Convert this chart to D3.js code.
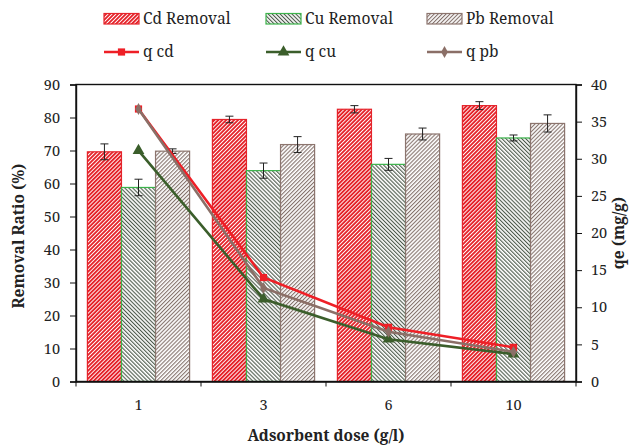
<!DOCTYPE html>
<html>
<head>
<meta charset="utf-8">
<script src="https://cdn.jsdelivr.net/npm/d3@7"></script>
<style>
  body { margin: 0; background: #fff; }
  svg text { font-family: "Noto Serif", "Liberation Serif", serif; fill: #222; }
</style>
</head>
<body>
<div id="chart-area"></div>
<script>
// values
const doses = ["1", "3", "6", "10"];
const metals = ["Cd", "Cu", "Pb"];
const cdRemoval = [69.6, 79.4, 82.5, 83.6];
const cuRemoval = [58.8, 63.9, 65.8, 73.8];
const pbRemoval = [69.8, 71.8, 75.0, 78.2];
const cdErr = [2.4, 1.0, 1.1, 1.2];
const cuErr = [2.5, 2.3, 1.8, 0.9];
const pbErr = [0.7, 2.4, 1.8, 2.6];
const qCd = [36.7, 14.0, 7.3, 4.6];
const qCu = [31.1, 11.1, 5.7, 3.7];
const qPb = [36.7, 12.6, 6.7, 4.0];
const leftTicks = [0, 10, 20, 30, 40, 50, 60, 70, 80, 90];
const rightTicks = [0, 5, 10, 15, 20, 25, 30, 35, 40];

const w = 631;
const h = 445;
const margin = {top: 84.5, right: 55, bottom: 63.5, left: 76};
const iw = w - margin.left - margin.right;
const ih = h - margin.top - margin.bottom;

const barStyle = {
  Cd: {stroke: "#e5242b", stripe: "#e5242b", sw: 1.9, rot: 45},
  Cu: {stroke: "#3cb44b", stripe: "#4d5a4c", sw: 1.1, rot: -45},
  Pb: {stroke: "#8c756e", stripe: "#85736d", sw: 1.1, rot: 45}
};
const lineStyle = [
  {name: "q cd", values: qCd, color: "#ee1f26", shape: d3.symbolSquare, size: 52},
  {name: "q cu", values: qCu, color: "#3b5e2b", shape: d3.symbolTriangle, size: 60},
  {name: "q pb", values: qPb, color: "#8b6f67", shape: d3.symbolDiamond, size: 40}
];

const rows = doses.map((d, i) => ({
  dose: d,
  bars: [
    {m: "Cd", v: cdRemoval[i], e: cdErr[i]},
    {m: "Cu", v: cuRemoval[i], e: cuErr[i]},
    {m: "Pb", v: pbRemoval[i], e: pbErr[i]}
  ]
}));

const svg = d3.select("#chart-area")
  .append("svg")
  .attr("width", w)
  .attr("height", h)
  .style("font-family", "'Noto Serif', serif");

const defs = svg.append("defs");
metals.forEach(m => {
  const s = barStyle[m];
  const p = defs.append("pattern")
    .attr("id", "hatch-" + m)
    .attr("patternUnits", "userSpaceOnUse")
    .attr("width", 2.8)
    .attr("height", 10)
    .attr("patternTransform", "rotate(" + s.rot + ")");
  p.append("rect").attr("width", 2.8).attr("height", 10).attr("fill", "#fff");
  p.append("rect").attr("width", s.sw).attr("height", 10).attr("fill", s.stripe);
});

const g = svg.append("g")
  .attr("transform", "translate(" + margin.left + "," + margin.top + ")");

const x = d3.scaleBand().domain(doses).range([0, iw]);
const xIn = d3.scaleBand().domain(metals).range([11.4, x.bandwidth() - 11.4]);
const y = d3.scaleLinear().domain([0, 90]).range([ih, 0]);
const y2 = d3.scaleLinear().domain([0, 40]).range([ih, 0]);

// bars
const grp = g.selectAll(".grp")
  .data(rows)
  .enter()
  .append("g")
  .attr("class", "grp")
  .attr("transform", d => "translate(" + x(d.dose) + ",0)");

grp.selectAll("rect")
  .data(d => d.bars)
  .enter()
  .append("rect")
  .attr("x", d => xIn(d.m))
  .attr("y", d => y(d.v))
  .attr("width", xIn.bandwidth())
  .attr("height", d => ih - y(d.v))
  .attr("fill", d => "url(#hatch-" + d.m + ")")
  .attr("stroke", d => barStyle[d.m].stroke)
  .attr("stroke-width", 1.2);

// error bars
const eb = grp.selectAll(".err")
  .data(d => d.bars)
  .enter()
  .append("g")
  .attr("class", "err")
  .attr("stroke", "#222")
  .attr("stroke-width", 1);
const cx = d => xIn(d.m) + xIn.bandwidth() / 2;
eb.append("line")
  .attr("x1", cx).attr("x2", cx)
  .attr("y1", d => y(d.v + d.e)).attr("y2", d => y(d.v - d.e));
eb.append("line")
  .attr("x1", d => cx(d) - 4).attr("x2", d => cx(d) + 4)
  .attr("y1", d => y(d.v + d.e)).attr("y2", d => y(d.v + d.e));
eb.append("line")
  .attr("x1", d => cx(d) - 4).attr("x2", d => cx(d) + 4)
  .attr("y1", d => y(d.v - d.e)).attr("y2", d => y(d.v - d.e));

// q lines
const line = d3.line()
  .x((d, i) => x(doses[i]) + x.bandwidth() / 2)
  .y(d => y2(d));

lineStyle.forEach(s => {
  g.append("path")
    .datum(s.values)
    .attr("d", line)
    .attr("fill", "none")
    .attr("stroke", s.color)
    .attr("stroke-width", 2.6);
  g.selectAll(null)
    .data(s.values)
    .enter()
    .append("path")
    .attr("d", d3.symbol().type(s.shape).size(s.size))
    .attr("transform", (d, i) => "translate(" + (x(doses[i]) + x.bandwidth() / 2) + "," + y2(d) + ")")
    .attr("fill", s.color);
});

// frame
g.append("rect")
  .attr("width", iw)
  .attr("height", ih)
  .attr("fill", "none")
  .attr("stroke", "#111")
  .attr("stroke-width", 1.4);

// axes
const yAxis = g.append("g")
  .call(d3.axisLeft(y).tickValues(leftTicks).tickSize(6).tickPadding(10));
const yAxis2 = g.append("g")
  .attr("transform", "translate(" + iw + ",0)")
  .call(d3.axisRight(y2).tickValues(rightTicks).tickSize(6).tickPadding(9));
const xAxis = g.append("g")
  .attr("transform", "translate(0," + ih + ")")
  .call(d3.axisBottom(x).tickSize(0).tickPadding(18));

[yAxis, yAxis2, xAxis].forEach(a => {
  a.attr("font-family", null);
  a.select(".domain").attr("stroke", "#111").attr("stroke-width", 1.4);
  a.selectAll(".tick line").attr("stroke", "#111");
  a.selectAll("text")
    .style("font-family", "'Noto Serif', serif")
    .attr("font-size", 14.5)
    .attr("fill", "#222");
});

// x ticks sit on the band edges
g.selectAll(".xtick")
  .data(doses.map(d => x(d)).concat([iw]))
  .enter()
  .append("line")
  .attr("x1", d => d).attr("x2", d => d)
  .attr("y1", ih).attr("y2", ih + 5)
  .attr("stroke", "#111");

// titles
svg.append("text")
  .attr("x", margin.left + iw / 2)
  .attr("y", 441)
  .attr("text-anchor", "middle")
  .attr("font-weight", "bold")
  .attr("font-size", 15.5)
  .text("Adsorbent dose (g/l)");

svg.append("text")
  .attr("transform", "translate(24," + (margin.top + ih / 2 + 3) + ") rotate(-90)")
  .attr("text-anchor", "middle")
  .attr("font-weight", "bold")
  .attr("font-size", 15.5)
  .text("Removal Ratio (%)");

svg.append("text")
  .attr("transform", "translate(624," + (margin.top + ih / 2) + ") rotate(-90)")
  .attr("text-anchor", "middle")
  .attr("font-weight", "bold")
  .attr("font-size", 15.5)
  .text("qe (mg/g)");

// legend
const lx = [104, 266, 427];
const legend = svg.append("g");
metals.forEach((m, i) => {
  legend.append("rect")
    .attr("x", lx[i]).attr("y", 13.5)
    .attr("width", 35).attr("height", 10.5)
    .attr("fill", "url(#hatch-" + m + ")")
    .attr("stroke", barStyle[m].stroke)
    .attr("stroke-width", 1.2);
  legend.append("text")
    .attr("x", lx[i] + 39).attr("y", 24)
    .attr("font-size", 15.5)
    .text(m + " Removal");
});
lineStyle.forEach((s, i) => {
  legend.append("line")
    .attr("x1", lx[i]).attr("x2", lx[i] + 35)
    .attr("y1", 52).attr("y2", 52)
    .attr("stroke", s.color)
    .attr("stroke-width", 2.6);
  legend.append("path")
    .attr("d", d3.symbol().type(s.shape).size(s.size))
    .attr("transform", "translate(" + (lx[i] + 17.5) + ",52)")
    .attr("fill", s.color);
  legend.append("text")
    .attr("x", lx[i] + 39).attr("y", 57)
    .attr("font-size", 15.5)
    .text(s.name);
});
</script>
</body>
</html>
